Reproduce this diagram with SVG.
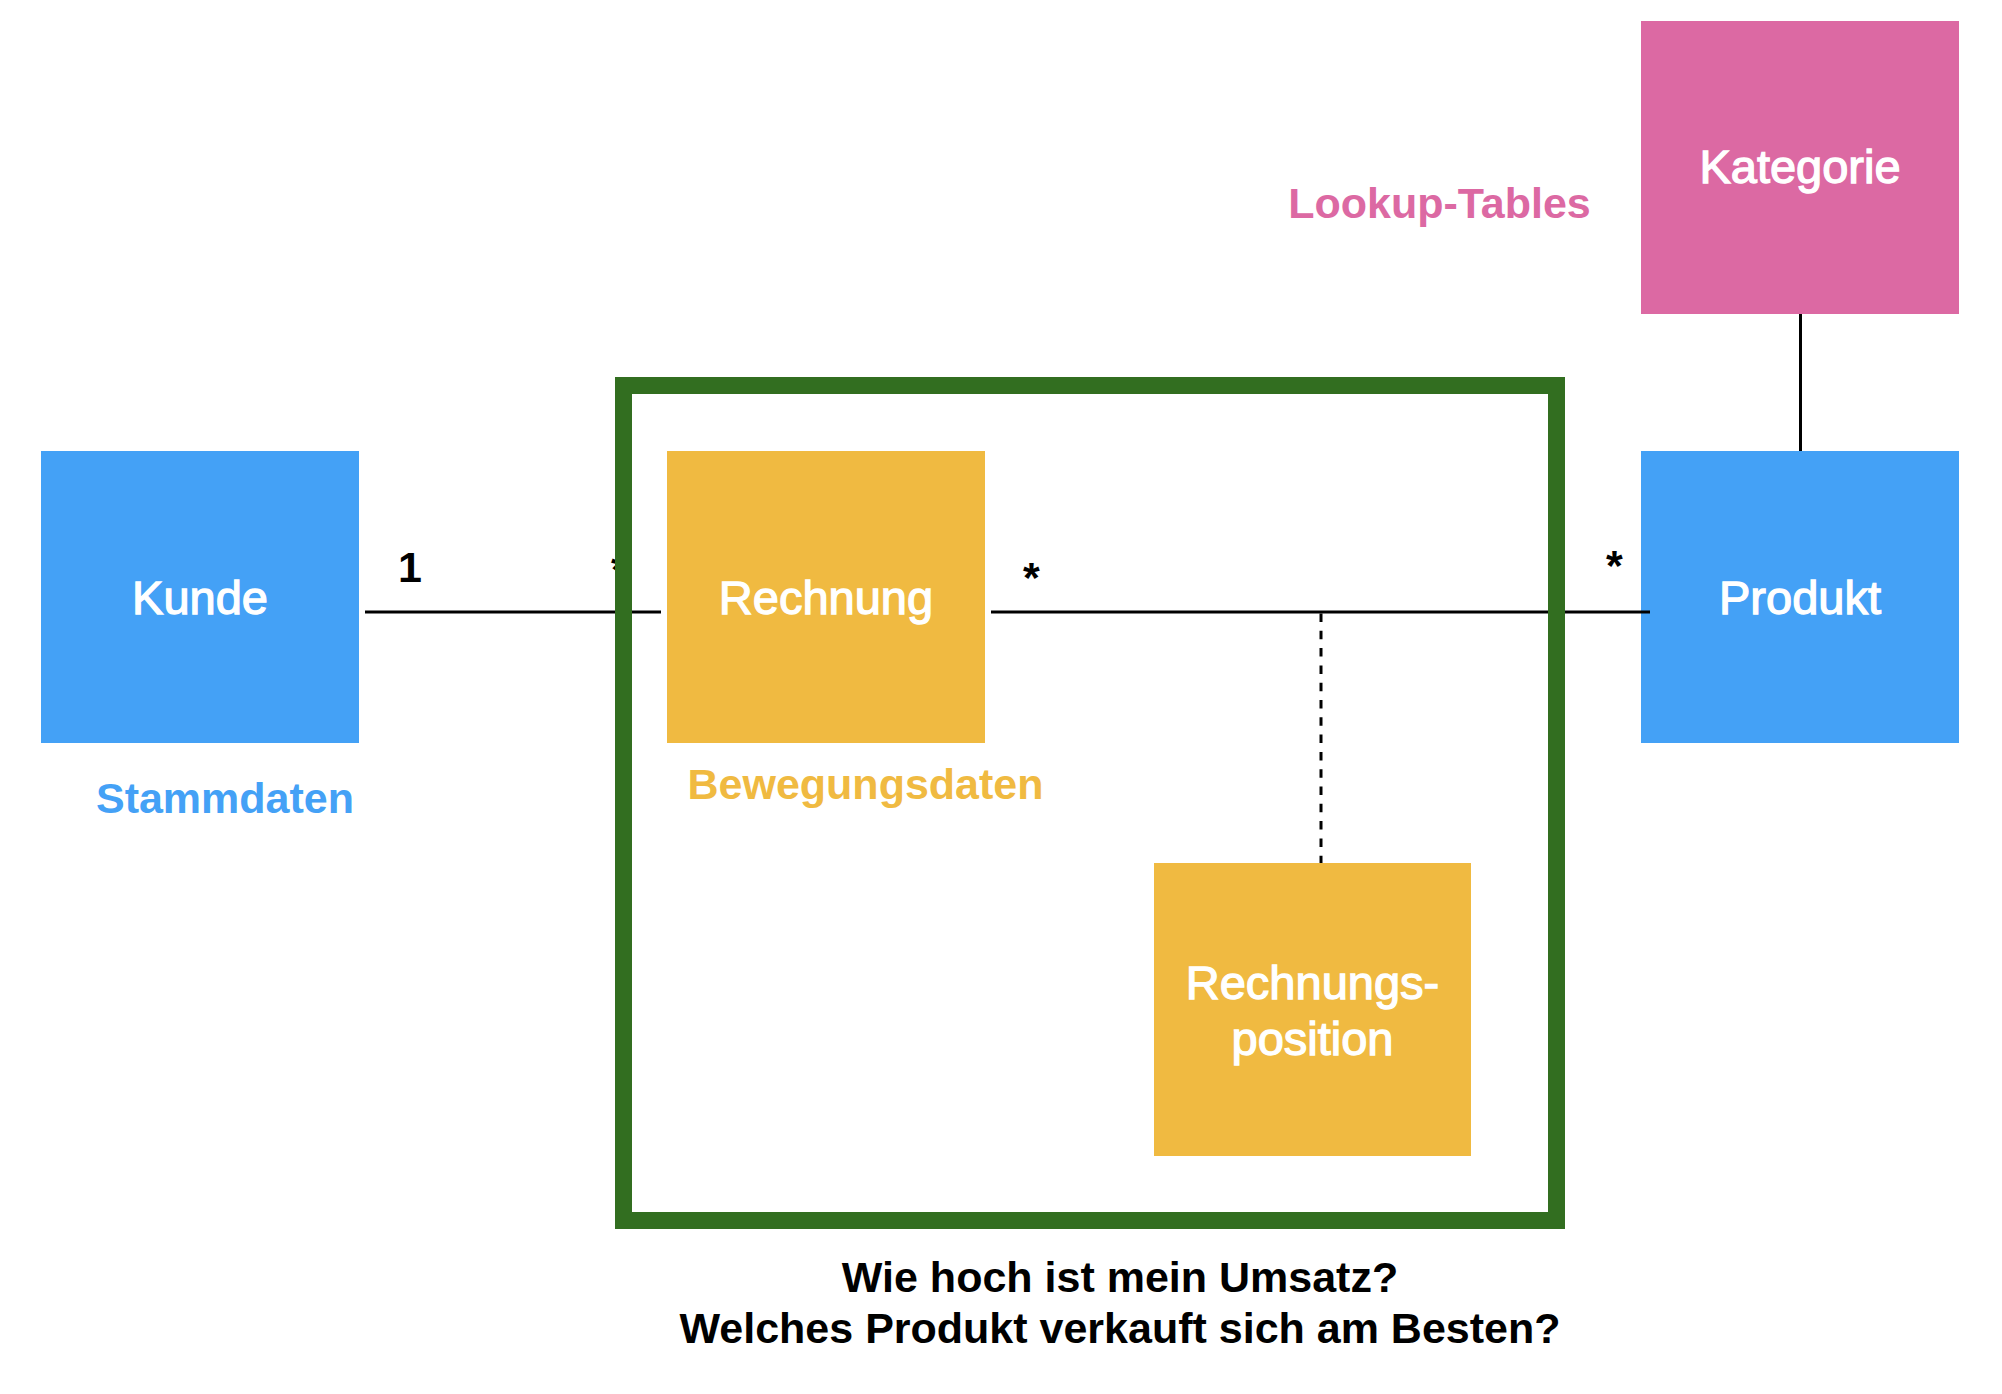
<svg xmlns="http://www.w3.org/2000/svg" width="2002" height="1394" viewBox="0 0 2002 1394">
  <style>
    .node-label { font-family: "Liberation Sans", Arial, sans-serif; font-size: 47px; fill: #FFFFFF; stroke: #FFFFFF; stroke-width: 1.3; text-anchor: middle; }
    .cat-label { font-family: "Liberation Sans", Arial, sans-serif; font-size: 43px; font-weight: bold; text-anchor: middle; }
    .mult { font-family: "Liberation Sans", Arial, sans-serif; font-size: 43px; font-weight: bold; fill: #000000; }
    .blue { fill: #44A1F6; }
    .yellow { fill: #F0BA41; }
    .pink { fill: #DC69A3; }
    .conn { stroke: #000000; stroke-width: 3; fill: none; }
  </style>
  <rect width="2002" height="1394" fill="#FFFFFF"/>

  <g id="kunde">
    <rect class="blue" x="41" y="451" width="318" height="292"/>
    <text class="node-label" x="200" y="614">Kunde</text>
  </g>

  <g id="rechnung">
    <rect class="yellow" x="667" y="451" width="318" height="292"/>
    <text class="node-label" x="826" y="614">Rechnung</text>
  </g>

  <g id="produkt">
    <rect class="blue" x="1641" y="451" width="318" height="292"/>
    <text class="node-label" x="1800" y="614">Produkt</text>
  </g>

  <g id="kategorie">
    <rect class="pink" x="1641" y="21" width="318" height="293"/>
    <text class="node-label" x="1800" y="183">Kategorie</text>
  </g>

  <g id="rechnungsposition">
    <rect class="yellow" x="1154" y="863" width="317" height="293"/>
    <text class="node-label" x="1312.5" y="999">Rechnungs-</text>
    <text class="node-label" x="1312.5" y="1055">position</text>
  </g>

  <g id="connectors">
    <line class="conn" x1="365" y1="612" x2="661" y2="612"/>
    <line class="conn" x1="991" y1="612" x2="1650" y2="612"/>
    <line class="conn" x1="1321" y1="613.5" x2="1321" y2="863" stroke-dasharray="8.5 8.8"/>
    <line class="conn" x1="1800.5" y1="314" x2="1800.5" y2="451" stroke-width="2.5"/>
  </g>

  <g id="multiplicities">
    <text class="mult" x="398" y="582">1</text>
    <text class="mult" x="611" y="584">*</text>
    <text class="mult" x="1023" y="592">*</text>
    <text class="mult" x="1606" y="580">*</text>
  </g>

  <g id="frame">
    <rect x="623.5" y="385.5" width="933" height="835" fill="none" stroke="#326E20" stroke-width="17"/>
  </g>

  <g id="labels">
    <text class="cat-label blue" x="225" y="813">Stammdaten</text>
    <text class="cat-label yellow" x="865.5" y="799">Bewegungsdaten</text>
    <text class="cat-label pink" x="1439.5" y="218">Lookup-Tables</text>
    <text class="cat-label" fill="#000000" x="1120" y="1292">Wie hoch ist mein Umsatz?</text>
    <text class="cat-label" fill="#000000" x="1120" y="1343">Welches Produkt verkauft sich am Besten?</text>
  </g>
</svg>
